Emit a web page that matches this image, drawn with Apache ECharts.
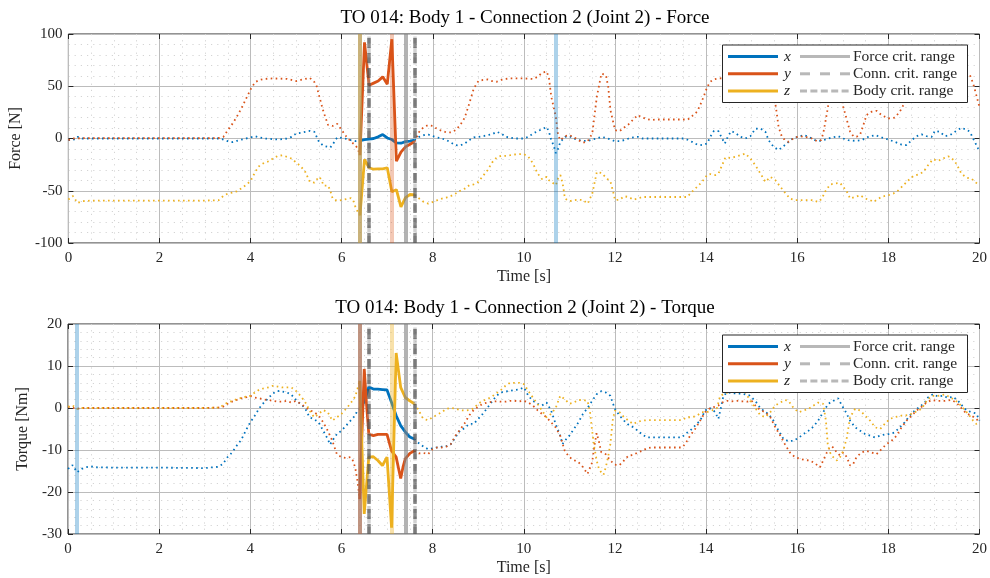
<!DOCTYPE html>
<html>
<head>
<meta charset="utf-8">
<script src="https://cdn.jsdelivr.net/npm/echarts@6/dist/echarts.min.js"></script>
<style>
  html, body { margin: 0; padding: 0; background: #ffffff; }
  #chart { width: 990px; height: 578px; }
</style>
</head>
<body>
<div id="chart"></div>
<script>
// ---- Titles and labels ----
const titles = [
  'TO 014: Body 1 - Connection 2 (Joint 2) - Force',
  'TO 014: Body 1 - Connection 2 (Joint 2) - Torque'
];
const yNames = ['Force [N]', 'Torque [Nm]'];
const xName = 'Time [s]';
const componentNames = ['x', 'y', 'z'];
const rangeNames = ['Force crit. range', 'Conn. crit. range', 'Body crit. range'];

// ---- Critical ranges and peak moments [s] ----
const forceCritRange = [6.4, 7.4];
const connCritRange = [6.6, 7.6];
const bodyCritRange = [6.6, 7.6];
const forcePeakTimes = [10.7, 7.1, 6.4];   // x, y, z
const torquePeakTimes = [0.2, 6.4, 7.1];   // x, y, z

// ---- Joint force [N]: [time, value] ----
const forceX = [[0,-1.6],[0.1,-1.6],[0.2,1.6],[0.3,0],[1,0],[2,0],[3,0],[3.3,0],[3.4,-1],[3.5,-2.6],[3.6,-3.5],[3.7,-2.2],[3.8,-1],[3.9,0],[4.0,1],[4.1,2.2],[4.2,1],[4.3,0],[4.5,-0.6],[4.6,-1],[4.7,-0.6],[4.8,0],[4.9,1.6],[5.0,4.8],[5.1,5.4],[5.2,6.4],[5.3,7.3],[5.4,6.4],[5.5,-3.2],[5.6,-7],[5.7,-8],[5.75,-8.6],[5.8,-5.8],[5.9,1],[6.0,0.6],[6.1,-0.3],[6.2,-1.6],[6.3,-2.5],[6.4,-2],
  [6.5,-1],[6.6,-0.5],[6.7,0],[6.8,1.6],[6.9,3.8],[7.0,0.5],[7.1,-1],[7.2,-4.2],[7.3,-4.5],[7.4,-3],[7.5,-2.5],[7.6,-1.6],
  [7.7,1.6],[7.8,3.2],[7.9,3.8],[8.0,2.2],[8.1,1],[8.2,0],[8.3,-1.6],[8.4,-4],[8.5,-6.4],[8.6,-6.7],[8.7,-4.8],[8.8,-1.6],[8.9,1],[9.0,1.6],[9.1,2.2],[9.2,3.2],[9.3,4],[9.4,6.4],[9.5,4.8],[9.6,1.6],[9.8,0],[10.0,0],[10.1,1.6],[10.2,4.8],[10.3,7],[10.4,9],[10.5,11],[10.55,6.4],[10.6,-1.6],[10.65,-6.4],[10.7,-14],[10.75,-9.6],[10.8,-3.2],[10.9,1.6],[11.0,2.2],[11.1,0],[11.2,-1.6],[11.3,-2.2],[11.4,-2.5],[11.5,-1],[11.6,0],[11.7,1.6],[11.8,0.6],[11.9,-1],[12.0,-2.5],[12.1,-2.5],[12.2,-1.6],[12.3,0],[12.4,1],[12.5,1.6],[12.6,0],[13.0,0],[13.5,0],[13.58,-1],[13.69,-3.2],[13.8,-5.8],[13.91,-6.4],[14.02,-4.8],[14.09,1.6],[14.17,7.3],[14.27,7],[14.35,0],[14.41,-4.8],[14.48,2.2],[14.55,7],[14.64,5.4],[14.75,1.6],[14.86,0],[14.97,2.2],[15.08,9.3],[15.19,9.6],[15.3,6.4],[15.37,-1.6],[15.48,-8],[15.59,-11],[15.7,-7.3],[15.81,-3.2],[15.92,0.6],[16.03,1.6],[16.14,3.2],[16.25,1.6],[16.39,-1.6],[16.5,-2.2],[16.61,-1],[16.76,1],[16.9,2.2],[17.01,0],[17.12,-1.6],[17.27,-2.2],[17.41,-1.6],[17.56,1.6],[17.71,3.2],[17.85,1],[18.0,-1],[18.14,-3.2],[18.29,-5.8],[18.4,-6.4],[18.51,-1.6],[18.62,2.2],[18.73,4],[18.84,2.2],[18.95,1.6],[19.02,7.3],[19.13,6.4],[19.24,2.2],[19.35,3.2],[19.46,6.4],[19.6,10.2],[19.71,8.6],[19.79,6.4],[19.86,0],[19.97,-9.6],[20,-11]];

const forceY = [[0,-1.6],[0.1,0],[0.3,0.3],[1,0.3],[2,0.3],[3,0.3],[3.3,0.5],[3.4,1.5],[3.5,8],[3.6,14],[3.7,21],[3.8,29],[3.9,38],[4.0,47],[4.1,54],[4.2,56],[4.3,57],[4.5,57.5],[4.8,57],[5.0,55],[5.1,56],[5.3,58],[5.4,54],[5.45,50],[5.5,41.5],[5.6,25.5],[5.7,13],[5.8,12],[5.9,14],[6.0,8],[6.1,2],[6.2,-3],[6.3,-6.4],[6.35,-9.6],[6.4,-16],
  [6.5,92],[6.6,51],[6.7,53],[6.8,55],[6.9,59],[7.0,52],[7.1,95],[7.2,-21.7],[7.3,-13],[7.4,-8],[7.5,-5.5],[7.6,-3],
  [7.7,6.4],[7.8,11],[7.9,12.8],[8.0,12],[8.1,9],[8.2,7.3],[8.3,5.8],[8.4,5.8],[8.5,8],[8.6,12.8],[8.7,20],[8.8,33.5],[8.9,48],[9.0,55],[9.1,56],[9.2,56.5],[9.3,55],[9.4,54.3],[9.5,56],[9.6,57],[9.7,57.5],[10.0,57.5],[10.2,57],[10.3,59],[10.4,63],[10.5,64],[10.55,57.5],[10.6,40],[10.7,20.8],[10.75,3],[10.8,-1.6],[10.9,2.2],[11.0,3.2],[11.1,1],[11.2,-1.6],[11.3,-4],[11.4,-2.6],[11.5,4.8],[11.6,40],[11.7,62],[11.8,60.7],[11.85,49.5],[11.9,27],[12.0,8],[12.1,7],[12.2,10.5],[12.3,13.7],[12.4,18.2],[12.5,22.4],[12.6,20],[12.7,18.5],[12.8,17.6],[12.9,18.2],[13.6,18.2],[13.69,21.4],[13.8,25.6],[13.87,32],[13.95,40.6],[14.02,49],[14.09,54.3],[14.17,56.5],[14.27,57.5],[14.5,58],[14.8,57],[15.1,56],[15.4,55],[15.48,45],[15.52,33],[15.55,24],[15.59,11],[15.66,2],[15.73,-1.6],[15.81,-3.2],[15.88,-1],[15.95,1],[16.06,2.2],[16.17,1.6],[16.32,0],[16.43,-2.5],[16.52,-1.6],[16.57,4.8],[16.61,14.4],[16.65,24],[16.68,32],[16.75,48],[16.85,58],[16.95,48],[17.01,30],[17.09,17.6],[17.16,6.4],[17.23,2.2],[17.3,1.6],[17.38,3.8],[17.45,12.8],[17.52,22.4],[17.63,25.6],[17.74,26.5],[17.85,22.4],[18.0,19.2],[18.14,20],[18.25,25.6],[18.33,32],[18.45,45],[18.6,55],[18.9,57],[19.3,56],[19.6,60],[19.71,62],[19.79,60.7],[19.86,52.7],[19.93,41.5],[20,30]];

const forceZ = [[0,-58.4],[0.1,-55],[0.2,-61.7],[0.3,-60],[0.5,-59.4],[1,-59.4],[2,-59.4],[3,-59.4],[3.3,-59],[3.4,-55],[3.5,-52.7],[3.6,-51.8],[3.7,-50.5],[3.8,-47.6],[3.9,-44.4],[4.0,-40.6],[4.1,-32],[4.2,-25.6],[4.3,-23.3],[4.4,-21.7],[4.5,-18.8],[4.6,-16.6],[4.7,-16],[4.8,-17.6],[4.9,-19.2],[5.0,-23],[5.1,-26.5],[5.2,-32],[5.3,-41.5],[5.4,-42.2],[5.5,-36.7],[5.55,-39],[5.6,-45],[5.7,-45],[5.75,-50],[5.8,-57.5],[5.9,-59.7],[6.0,-59],[6.1,-58],[6.2,-57],[6.25,-59],[6.3,-65.5],[6.35,-70],[6.4,-73.5],
  [6.5,-20],[6.6,-28],[6.7,-29.4],[6.8,-29],[6.9,-29],[7.0,-28],[7.1,-51],[7.2,-49],[7.3,-65.5],[7.4,-56.5],[7.5,-53.6],[7.6,-54],
  [7.7,-57.5],[7.8,-60.7],[7.9,-62.3],[8.0,-60.7],[8.1,-59],[8.2,-57.5],[8.3,-56.5],[8.4,-55],[8.5,-52.7],[8.6,-50],[8.7,-48],[8.8,-44.7],[8.9,-43.8],[9.0,-41.5],[9.1,-35.8],[9.2,-30.4],[9.3,-23],[9.4,-18.2],[9.5,-16.6],[9.6,-16.6],[9.7,-16],[9.8,-15.3],[9.9,-15],[10.0,-15],[10.1,-17.6],[10.2,-24],[10.3,-33.5],[10.4,-39],[10.5,-36.7],[10.55,-40],[10.6,-41.5],[10.7,-44.7],[10.75,-38.3],[10.8,-35],[10.85,-43],[10.9,-57.5],[11.0,-60],[11.1,-59],[11.2,-58.5],[11.3,-59],[11.4,-62.3],[11.5,-52.7],[11.6,-32],[11.7,-33],[11.8,-37.4],[11.9,-41.5],[11.95,-49.5],[12.0,-59],[12.1,-58.5],[12.2,-55.3],[12.3,-56],[12.4,-58.5],[12.5,-57.5],[12.6,-56],[13.58,-56],[13.69,-51],[13.8,-46.3],[13.91,-41.5],[14.02,-35],[14.09,-34],[14.2,-35],[14.27,-33.5],[14.35,-25.6],[14.42,-18.2],[14.53,-18.5],[14.64,-17.6],[14.75,-16],[14.86,-14.4],[14.97,-19.2],[15.08,-25.6],[15.19,-33.5],[15.3,-41.5],[15.41,-36.7],[15.52,-40],[15.63,-46.3],[15.73,-51.8],[15.84,-57.5],[15.95,-59],[16.32,-59],[16.46,-60.7],[16.54,-57.5],[16.61,-51],[16.72,-44],[16.83,-43],[16.94,-42.5],[17.01,-46.3],[17.09,-51],[17.16,-57.5],[17.27,-56],[17.38,-54.3],[17.49,-57.5],[17.6,-59],[17.67,-60.7],[17.78,-57.5],[17.89,-55.3],[18.0,-54.3],[18.11,-52.7],[18.22,-49.5],[18.33,-44.7],[18.44,-40],[18.55,-35.8],[18.65,-34.5],[18.77,-32],[18.87,-25.6],[18.98,-19.8],[19.09,-21.4],[19.2,-19.2],[19.31,-17],[19.38,-18.2],[19.49,-24],[19.6,-33.5],[19.71,-37.4],[19.82,-38.3],[19.93,-42.5],[20,-44.7]];

// ---- Joint torque [Nm]: [time, value] ----
const torqueX = [[0,-14.5],[0.1,-13.6],[0.2,-15.3],[0.3,-14.5],[0.4,-14.1],[0.5,-13.9],[0.6,-14.1],[1,-14.2],[2,-14.2],[3,-14.3],[3.3,-14],[3.4,-13.3],[3.5,-11.7],[3.6,-10.6],[3.7,-9],[3.8,-7.6],[3.9,-5.4],[4.0,-3.4],[4.1,-1.8],[4.2,0],[4.3,1.3],[4.4,2.4],[4.5,3.5],[4.6,4.1],[4.7,3.9],[4.8,3.7],[4.9,3.2],[5.0,1.9],[5.1,1],[5.2,0],[5.3,-2.2],[5.4,-2.7],[5.5,-3.4],[5.6,-5.4],[5.7,-7.4],[5.75,-8.7],[5.8,-7.8],[5.9,-6.2],[6.0,-5.4],[6.1,-4.2],[6.2,-3],[6.3,-1.8],[6.35,-0.6],[6.4,-0.3],
  [6.5,1.5],[6.6,5],[6.7,4.5],[6.8,4.5],[6.9,4.4],[7.0,4.3],[7.1,1.3],[7.2,-1.8],[7.3,-4.2],[7.4,-5.7],[7.5,-6.9],[7.6,-7.4],
  [7.7,-8.4],[7.8,-9.2],[7.9,-9.8],[8.0,-9.6],[8.1,-9.4],[8.2,-9.2],[8.3,-9.1],[8.4,-8.6],[8.5,-7],[8.6,-5.4],[8.7,-4.8],[8.8,-3.8],[8.9,-3.8],[9.0,-2.6],[9.1,-1.4],[9.2,0],[9.3,1.5],[9.4,2.9],[9.5,3.7],[9.6,3.9],[9.7,4.1],[9.8,4.3],[9.9,4.4],[10.0,4.9],[10.05,4],[10.1,2.9],[10.2,1.7],[10.3,1],[10.4,0.6],[10.5,1.3],[10.6,-0.6],[10.7,-3.8],[10.8,-6.6],[10.85,-8.6],[10.9,-7.8],[11.0,-6.6],[11.1,-5],[11.2,-3.4],[11.3,-1.4],[11.4,0],[11.5,1.7],[11.6,3.3],[11.7,4],[11.8,3.7],[11.9,2.9],[11.95,1.3],[12.0,-0.2],[12.1,-1.8],[12.2,-3],[12.3,-4],[12.4,-4.6],[12.5,-5.4],[12.6,-6.3],[12.7,-7],[13.47,-7],[13.54,-6.2],[13.65,-5.4],[13.76,-4.2],[13.87,-3],[13.98,-0.6],[14.06,0],[14.13,-0.2],[14.2,-1],[14.27,-2.6],[14.33,0.2],[14.38,2.9],[14.46,3.7],[14.6,3.5],[14.8,3.4],[14.95,3],[15.08,1.7],[15.19,0],[15.3,-1],[15.37,-1.4],[15.48,-3],[15.59,-5.4],[15.7,-7.4],[15.81,-7.9],[15.92,-7.8],[16.03,-7.1],[16.14,-6.2],[16.25,-5.4],[16.36,-4.4],[16.46,-3],[16.57,-1],[16.68,1],[16.79,1.7],[16.9,2.3],[16.98,0.6],[17.05,-0.6],[17.16,-3],[17.27,-4.6],[17.38,-5.4],[17.49,-6.2],[17.6,-6.6],[17.71,-7],[17.82,-6.6],[17.92,-6.3],[18.03,-6.2],[18.14,-5.8],[18.25,-4.6],[18.36,-3.4],[18.47,-1.8],[18.58,-0.6],[18.69,0.3],[18.8,1.3],[18.87,2.5],[18.98,3.3],[19.09,2.7],[19.2,2.9],[19.31,2.4],[19.42,2.7],[19.53,1.7],[19.64,0.3],[19.71,-0.5],[19.82,-1],[19.93,-1.3],[20,-3]];

const torqueY = [[0,0.3],[0.2,-0.2],[0.3,0],[1,0],[2,0],[3,0],[3.3,0.1],[3.4,0.3],[3.5,1],[3.6,1.5],[3.7,1.9],[3.8,2.3],[3.9,2.5],[4.0,2.9],[4.1,2.5],[4.2,2.3],[4.3,2],[4.4,1.9],[4.5,1.7],[4.6,1.5],[4.7,1.5],[4.8,1.7],[4.9,1.3],[5.0,1.7],[5.1,1],[5.2,0.3],[5.3,-0.5],[5.4,-1],[5.5,-1.8],[5.6,-3.4],[5.7,-5.4],[5.8,-7.8],[5.9,-11],[6.0,-11.7],[6.1,-11.9],[6.2,-11.7],[6.25,-12.5],[6.3,-14.1],[6.35,-17.3],[6.4,-21.7],
  [6.5,9.3],[6.55,1],[6.6,-6.2],[6.7,-6.6],[6.8,-6.3],[7.0,-6.3],[7.1,-10.2],[7.2,-11.7],[7.3,-16.8],[7.35,-14.1],[7.4,-12.1],[7.5,-10.8],[7.6,-10.2],
  [7.7,-10.8],[7.8,-10.7],[7.9,-11],[8.0,-9.8],[8.1,-9.4],[8.2,-9.4],[8.3,-9.2],[8.4,-8.6],[8.5,-6.6],[8.6,-5.2],[8.7,-3.7],[8.8,-1.8],[8.9,-0.5],[9.0,0.3],[9.1,1],[9.2,1.3],[9.3,1.5],[9.4,1.6],[9.5,1.5],[9.6,1.5],[9.7,1.7],[9.8,1.7],[9.9,1.6],[10.0,1.7],[10.1,1.3],[10.2,0.6],[10.3,-0.5],[10.4,-1.4],[10.5,-2.2],[10.6,-3.4],[10.7,-4.6],[10.8,-6.6],[10.9,-10.2],[11.0,-11.7],[11.1,-12.4],[11.2,-12.9],[11.3,-14.1],[11.4,-15.7],[11.5,-13],[11.55,-9],[11.6,-6],[11.65,-8],[11.7,-10.5],[11.8,-11],[11.9,-12.5],[12.0,-13.5],[12.1,-13.6],[12.2,-12.5],[12.3,-11.3],[12.4,-11.2],[12.5,-10.6],[12.6,-10.2],[12.7,-9.6],[12.8,-9.4],[13.47,-9.4],[13.54,-8.6],[13.65,-6.6],[13.76,-5],[13.87,-3],[13.98,-1],[14.09,0],[14.2,0.3],[14.27,0.6],[14.35,1.3],[14.46,1.7],[14.57,1.6],[14.68,1.7],[14.79,1.6],[14.9,1.5],[15.0,1.7],[15.08,0.6],[15.19,-0.5],[15.3,-1],[15.41,-2.2],[15.52,-4.6],[15.63,-6.6],[15.73,-8.6],[15.84,-10.6],[15.95,-11.7],[16.06,-12.1],[16.17,-12.4],[16.28,-12.5],[16.39,-13.2],[16.5,-14.1],[16.57,-12.5],[16.65,-10.6],[16.72,-9.2],[16.79,-9.4],[16.87,-10.6],[16.94,-11.3],[17.01,-10.6],[17.09,-11.7],[17.16,-13.7],[17.23,-13.3],[17.3,-11.7],[17.41,-10.6],[17.52,-10.2],[17.63,-10.6],[17.74,-11],[17.85,-9.8],[17.96,-8.6],[18.07,-7.8],[18.18,-6.6],[18.29,-4.6],[18.4,-3],[18.51,-1.8],[18.62,-0.6],[18.73,0.3],[18.84,1.3],[18.95,1.9],[19.09,1.7],[19.24,1.7],[19.38,1.9],[19.49,1.3],[19.6,0],[19.71,-1.3],[19.82,-1.8],[19.93,-2.6],[20,-3.4]];

const torqueZ = [[0,0.3],[0.1,0.6],[0.2,-0.2],[0.3,0],[1,0],[2,0],[3,0],[3.3,0.1],[3.4,0.6],[3.5,1.3],[3.6,1.7],[3.7,2.1],[3.8,2.4],[3.9,2.7],[4.0,2.9],[4.1,3.7],[4.2,4.4],[4.3,4.7],[4.4,4.9],[4.5,5.3],[4.6,5.1],[4.7,4.9],[4.9,4.9],[5.0,4.1],[5.1,2.9],[5.2,1.5],[5.3,-0.6],[5.4,-2.2],[5.5,-1.4],[5.6,-0.5],[5.7,-1],[5.8,-3],[5.9,-2.2],[6.0,-1.4],[6.1,-0.2],[6.2,1.1],[6.3,2.7],[6.35,4.5],[6.4,6.5],
  [6.5,-25.2],[6.6,-11.7],[6.7,-11.6],[6.8,-12.5],[6.9,-13.7],[7.0,-11.7],[7.1,-28.5],[7.2,13.1],[7.3,4.9],[7.4,2.5],[7.5,1.7],[7.6,1],
  [7.7,-0.6],[7.75,-1.8],[7.8,-2.6],[7.9,-2.9],[8.0,-2.2],[8.1,-1.6],[8.2,-1],[8.3,-0.2],[8.4,0],[8.5,-0.1],[8.6,-0.5],[8.7,-0.6],[8.8,-0.5],[8.9,-0.1],[9.0,1],[9.1,1.7],[9.2,2.1],[9.3,2.7],[9.4,3.5],[9.5,4.3],[9.6,5.3],[9.7,6],[9.9,6],[10.0,5.7],[10.1,4.1],[10.2,2.5],[10.3,1],[10.4,-0.6],[10.5,-2.2],[10.6,-1.4],[10.7,0],[10.8,2.9],[10.9,2.1],[11.0,1],[11.1,1.3],[11.2,1.9],[11.3,1.9],[11.4,1.7],[11.45,-0.6],[11.5,-5.4],[11.55,-9.4],[11.6,-12.5],[11.65,-14.5],[11.7,-15.3],[11.75,-15.9],[11.8,-14.1],[11.85,-11.7],[11.9,-8.6],[11.95,-3],[12.0,-0.6],[12.1,-1],[12.2,-2.2],[12.3,-3],[12.4,-3.8],[12.5,-3.3],[12.6,-3],[12.7,-2.9],[13.47,-2.9],[13.58,-2.2],[13.69,-2.2],[13.8,-1.8],[13.91,-1],[14.02,-1],[14.13,-0.6],[14.24,0],[14.31,2.9],[14.38,3.3],[14.6,4.2],[14.85,4],[14.97,1.7],[15.08,0],[15.19,-1.7],[15.3,-2.2],[15.41,-1],[15.52,0.6],[15.63,1.3],[15.73,1.9],[15.81,1.7],[15.92,0],[16.03,-1],[16.14,-0.6],[16.25,-0.2],[16.36,0.6],[16.46,1.3],[16.57,1],[16.63,-3],[16.67,-8.6],[16.72,-10.6],[16.79,-11.7],[16.87,-12.5],[16.94,-11.7],[17.01,-10.2],[17.09,-7],[17.16,-2.2],[17.27,-0.2],[17.38,-0.6],[17.49,-1.8],[17.6,-3],[17.71,-4.6],[17.82,-5],[17.92,-3.8],[18.03,-2.6],[18.14,-2.2],[18.29,-1.8],[18.44,-1.7],[18.58,-1],[18.73,-0.2],[18.84,1.7],[18.95,2.9],[19.09,2.9],[19.24,3.2],[19.38,2.4],[19.53,1.3],[19.64,0],[19.75,-1.4],[19.86,-3],[19.93,-3.8],[20,-3.4]];

// ---- Axis tick settings ----
const timeTicks = { min: 0, max: 20, interval: 2 };
const forceTicks = { min: -100, max: 100, interval: 50 };
const torqueTicks = { min: -30, max: 20, interval: 10 };

// ---- Styling ----
const FONT = '"Liberation Serif", "DejaVu Serif", serif';
const INK = '#262626';
const COLORS = ['#0072BD', '#D95319', '#EDB120'];
const PEAK_COLORS = ['rgba(0,114,189,0.32)', 'rgba(217,83,25,0.32)', 'rgba(237,177,32,0.38)'];
const GRID_BOXES = [
  { left: 68, top: 34, width: 914, height: 209 },
  { left: 68, top: 324, width: 914, height: 210 }
];

// The solid part of each trace spans the union of all critical ranges
const solidFrom = Math.min(forceCritRange[0], connCritRange[0], bodyCritRange[0]);
const solidTo = Math.max(forceCritRange[1], connCritRange[1], bodyCritRange[1]);

function splitTrace(data) {
  const before = data.filter(p => p[0] <= solidFrom);
  const after = data.filter(p => p[0] >= solidTo);
  const inside = data.filter(p => p[0] >= solidFrom && p[0] <= solidTo);
  return { dotted: before.concat([[(solidFrom + solidTo) / 2, '-']], after), solid: inside };
}

function xAxisFor(gridIndex, onTop) {
  return {
    type: 'value', gridIndex, position: onTop ? 'top' : 'bottom',
    min: timeTicks.min, max: timeTicks.max, interval: timeTicks.interval,
    axisLine: { show: false, onZero: false },
    axisTick: { show: true, inside: true, length: 5, lineStyle: { color: INK, width: 1 } },
    axisLabel: { show: !onTop, color: INK, fontFamily: FONT, fontSize: 15, margin: 8 },
    splitLine: { show: !onTop, lineStyle: { color: '#bcbcbc', width: 1 } },
    minorTick: { show: false, splitNumber: 4 },
    minorSplitLine: { show: !onTop, lineStyle: { color: '#d4d4d4', width: 1, type: [1.2, 5] } },
    name: onTop ? '' : xName, nameLocation: 'middle', nameGap: 26,
    nameTextStyle: { color: INK, fontFamily: FONT, fontSize: 16 }
  };
}

function yAxisFor(gridIndex, onRight, ticks, name, gap) {
  return {
    type: 'value', gridIndex, position: onRight ? 'right' : 'left',
    min: ticks.min, max: ticks.max, interval: ticks.interval,
    axisLine: { show: false, onZero: false },
    axisTick: { show: true, inside: true, length: 5, lineStyle: { color: INK, width: 1 } },
    axisLabel: { show: !onRight, color: INK, fontFamily: FONT, fontSize: 15, margin: 6 },
    splitLine: { show: !onRight, lineStyle: { color: '#bcbcbc', width: 1 } },
    minorTick: { show: false, splitNumber: 5 },
    minorSplitLine: { show: !onRight, lineStyle: { color: '#d4d4d4', width: 1, type: [1.2, 5] } },
    name: onRight ? '' : name, nameLocation: 'middle', nameGap: gap,
    nameTextStyle: { color: INK, fontFamily: FONT, fontSize: 16 }
  };
}

function critLineData(peaks) {
  const d = [];
  bodyCritRange.forEach(t => d.push({ xAxis: t, lineStyle: { color: 'rgba(150,150,150,0.45)', width: 3.5, type: [7, 3.5] } }));
  connCritRange.forEach(t => d.push({ xAxis: t, lineStyle: { color: 'rgba(70,70,70,0.62)', width: 3.5, type: [10, 5] } }));
  forceCritRange.forEach(t => d.push({ xAxis: t, lineStyle: { color: 'rgba(128,128,128,0.6)', width: 4, type: 'solid' } }));
  peaks.forEach((t, i) => d.push({ xAxis: t, lineStyle: { color: PEAK_COLORS[i], width: 4, type: 'solid' } }));
  return d;
}

function traceSeries(gridIndex, traces) {
  const out = [];
  traces.forEach((trace, i) => {
    const parts = splitTrace(trace);
    out.push({
      type: 'line', xAxisIndex: gridIndex * 2, yAxisIndex: gridIndex * 2,
      data: parts.dotted, symbol: 'none', showSymbol: false, z: 2,
      lineStyle: { color: COLORS[i], width: 1.8, type: [1.6, 3.4], cap: 'butt' },
      emphasis: { disabled: true }
    });
    out.push({
      type: 'line', xAxisIndex: gridIndex * 2, yAxisIndex: gridIndex * 2,
      data: parts.solid, symbol: 'none', showSymbol: false, z: 3,
      lineStyle: { color: COLORS[i], width: 2.8 },
      emphasis: { disabled: true }
    });
  });
  return out;
}

function critSeries(gridIndex, peaks) {
  return {
    type: 'line', xAxisIndex: gridIndex * 2, yAxisIndex: gridIndex * 2, data: [], z: 4,
    markLine: {
      silent: true, symbol: ['none', 'none'], label: { show: false }, animation: false,
      emphasis: { disabled: true }, data: critLineData(peaks)
    }
  };
}

function legendGraphic(top) {
  const left = 722.5, w = 245, h = 57.5;
  const els = [{
    type: 'rect', z: 100, shape: { x: left, y: top, width: w, height: h },
    style: { fill: '#ffffff', stroke: INK, lineWidth: 1 }
  }];
  const grayDashes = [null, [10, 10], [7, 3.4]];
  for (let i = 0; i < 3; i++) {
    const y = top + 11.5 + i * 17.3;
    els.push({ type: 'line', z: 101, shape: { x1: 728, y1: y, x2: 778, y2: y },
      style: { stroke: COLORS[i], lineWidth: 3 } });
    els.push({ type: 'text', z: 101, x: 784, y: y,
      style: { text: componentNames[i], font: 'italic 15.5px ' + FONT, fill: INK, align: 'left', verticalAlign: 'middle' } });
    els.push({ type: 'line', z: 101, shape: { x1: 800, y1: y, x2: 850, y2: y },
      style: Object.assign({ stroke: '#b8b8b8', lineWidth: 3 }, grayDashes[i] ? { lineDash: grayDashes[i] } : {}) });
    els.push({ type: 'text', z: 101, x: 853, y: y,
      style: { text: rangeNames[i], font: '15.5px ' + FONT, fill: INK, align: 'left', verticalAlign: 'middle' } });
  }
  return els;
}

const titleGraphics = titles.map((t, i) => ({
  type: 'text', z: 100, x: GRID_BOXES[i].left + GRID_BOXES[i].width / 2, y: i === 0 ? 9 : 299,
  style: { text: t, font: '19px ' + FONT, fill: '#000000', align: 'center', verticalAlign: 'top' }
}));

const chart = echarts.init(document.getElementById('chart'), null, { renderer: 'canvas' });
chart.setOption({
  animation: false,
  backgroundColor: '#ffffff',
  grid: GRID_BOXES.map(b => Object.assign({ show: true, borderColor: INK, borderWidth: 1, backgroundColor: 'transparent' }, b)),
  xAxis: [xAxisFor(0, false), xAxisFor(0, true), xAxisFor(1, false), xAxisFor(1, true)],
  yAxis: [
    yAxisFor(0, false, forceTicks, yNames[0], 33), yAxisFor(0, true, forceTicks, '', 0),
    yAxisFor(1, false, torqueTicks, yNames[1], 26), yAxisFor(1, true, torqueTicks, '', 0)
  ],
  series: [].concat(
    traceSeries(0, [forceX, forceY, forceZ]),
    traceSeries(1, [torqueX, torqueY, torqueZ]),
    [critSeries(0, forcePeakTimes), critSeries(1, torquePeakTimes)]
  ),
  graphic: { elements: [].concat(titleGraphics, legendGraphic(45), legendGraphic(335)) }
});
</script>
</body>
</html>
